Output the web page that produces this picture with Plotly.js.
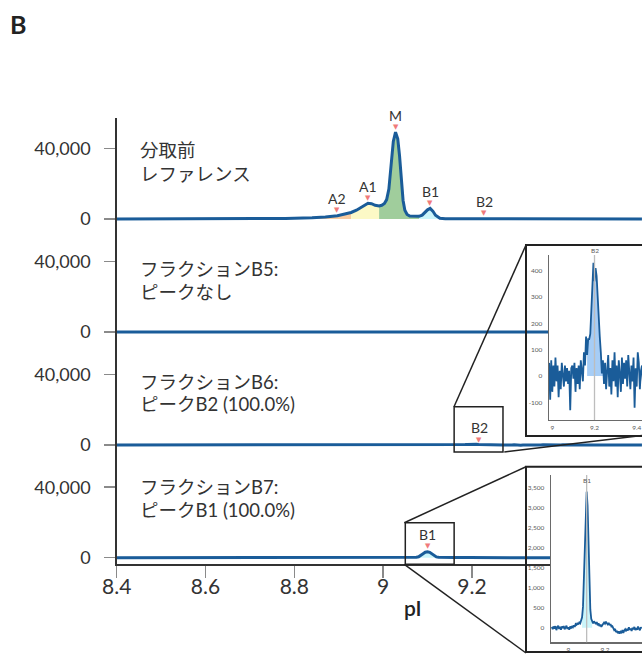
<!DOCTYPE html>
<html>
<head>
<meta charset="utf-8">
<script src="https://cdn.plot.ly/plotly-3.0.1.min.js"></script>
<style>
  html, body { margin: 0; padding: 0; background: #fff; }
  #chart { width: 642px; height: 654px; }
</style>
</head>
<body>
<div id="chart"></div>
<script>
// ---------------- data ----------------
// Pre-fractionation reference run: pI vs. signal
const refPI = [8.4, 8.5, 8.6, 8.7, 8.78, 8.84, 8.87, 8.897, 8.915, 8.928,
  8.94, 8.95, 8.958, 8.966, 8.974, 8.982, 8.991, 8.997, 9.003, 9.008,
  9.013, 9.018, 9.023, 9.028, 9.033, 9.037, 9.041, 9.045, 9.049, 9.054,
  9.06, 9.07, 9.081, 9.088, 9.094, 9.1, 9.106, 9.112, 9.118, 9.124,
  9.128, 9.14, 9.18, 9.21, 9.228, 9.245, 9.3, 9.4, 9.583];
const refSignal = [0, 0, 20, 100, 300, 700, 1100, 1900, 2800, 3700,
  5000, 6600, 8000, 8900, 8700, 7800, 7400, 7800, 8800, 11000,
  17000, 30000, 44000, 49300, 45500, 36000, 22000, 10500, 5000, 2600,
  1700, 1400, 1500, 2200, 3800, 5200, 6000, 4500, 2100, 800,
  400, 120, 80, 150, 350, 150, 60, 30, 0];

// Integration regions of the reference run
const regionNames = ['A2', 'A1', 'M', 'B1'];
const regionStart = [8.84, 8.928, 8.991, 9.081];
const regionEnd = [8.928, 8.991, 9.081, 9.128];

// Peak labels of the reference run
const refPeakNames = ['A2', 'A1', 'M', 'B1', 'B2'];
const refPeakPI = [8.897, 8.966, 9.028, 9.106, 9.228];

// Fraction B5: no peaks
const b5PI = [8.4, 8.7, 9.0, 9.3, 9.583];
const b5Signal = [0, 0, 0, 0, 0];

// Fraction B6: peak B2 (100.0%)
const b6LeadPI = [8.4, 8.6, 8.8, 8.98];
const b6LeadSignal = [0, 0, 0, 0];
const b6ZoomPI = [8.985, 8.99, 8.995, 9.0, 9.005, 9.01, 9.015, 9.02, 9.025, 9.03,
  9.035, 9.04, 9.045, 9.05, 9.055, 9.06, 9.065, 9.07, 9.075, 9.08,
  9.085, 9.09, 9.095, 9.1, 9.105, 9.11, 9.115, 9.12, 9.125, 9.13,
  9.135, 9.14, 9.145, 9.15, 9.155, 9.16, 9.165, 9.17, 9.175, 9.18,
  9.185, 9.19, 9.195, 9.2, 9.205, 9.21, 9.215, 9.22, 9.225, 9.23,
  9.235, 9.24, 9.245, 9.25, 9.255, 9.26, 9.265, 9.27, 9.275, 9.28,
  9.285, 9.29, 9.295, 9.3, 9.305, 9.31, 9.315, 9.32, 9.325, 9.33,
  9.335, 9.34, 9.345, 9.35, 9.355, 9.36, 9.365, 9.37, 9.375, 9.38,
  9.385, 9.39, 9.395, 9.4, 9.405, 9.41, 9.415, 9.42, 9.425, 9.43];
const b6ZoomSignal = [50, -90, 60, -60, 40, -40, 70, -20, 40, -80,
  20, -50, 50, 10, -40, 40, -20, 30, -30, 20,
  -130, 30, 40, -10, 50, -60, 30, -30, 40, -50,
  60, 20, -20, 90, 40, 150, 80, 140, 140, 160,
  250, 330, 430, 360, 410, 380, 290, 230, 150, 90,
  10, 60, -30, 50, -50, 20, 80, -40, 30, -70,
  60, -20, 90, -40, 40, -80, 60, 10, -60, 70,
  -30, 50, -10, 60, -40, 80, 20, -50, 40, -20,
  70, -120, 30, -40, 90, 50, -50, 20, 40, -30];
const b6TailPI = [9.5, 9.583];
const b6TailSignal = [0, 0];
const b6PeakName = 'B2';
const b6PeakPI = 9.216;      // marker on the overview trace
const b6ZoomPeakPI = 9.2;    // marker on the zoomed trace
const b6FillStart = 9.165, b6FillEnd = 9.24;

// Fraction B7: peak B1 (100.0%)
const b7LeadPI = [8.4, 8.6, 8.8, 8.9];
const b7LeadSignal = [0, 0, 0, 0];
const b7ZoomPI = [8.91, 8.915, 8.92, 8.925, 8.93, 8.935, 8.94, 8.945, 8.95, 8.955,
  8.96, 8.965, 8.97, 8.975, 8.98, 8.985, 8.99, 8.995, 9.0, 9.005,
  9.01, 9.015, 9.02, 9.025, 9.03, 9.035, 9.04, 9.045, 9.05, 9.055,
  9.06, 9.065, 9.07, 9.075, 9.08, 9.085, 9.09, 9.095, 9.1, 9.105,
  9.11, 9.115, 9.12, 9.125, 9.13, 9.135, 9.14, 9.145, 9.15, 9.155,
  9.16, 9.165, 9.17, 9.175, 9.18, 9.185, 9.19, 9.195, 9.2, 9.205,
  9.21, 9.215, 9.22, 9.225, 9.23, 9.235, 9.24, 9.245, 9.25, 9.255,
  9.26, 9.265, 9.27, 9.275, 9.28, 9.285, 9.29, 9.295, 9.3, 9.305,
  9.31, 9.315, 9.32, 9.325, 9.33, 9.335, 9.34, 9.345, 9.35, 9.355,
  9.36, 9.365, 9.37, 9.375, 9.38, 9.385, 9.39, 9.395, 9.4];
const b7ZoomSignal = [20, -40, 30, -20, 40, -60, 10, 50, -30, 20,
  -50, 30, -10, 40, -40, 20, 50, -30, 10, -50,
  30, -20, 40, 10, 60, 20, 90, 70, 120, 80,
  130, 110, 170, 260, 520, 1200, 2300, 3100, 3400, 3050,
  2250, 1150, 450, 220, 150, 110, 160, 120, 90, 140,
  60, 110, 40, 80, 20, 60, 90, 130, 100, 150,
  110, 80, 120, 60, 90, 30, 40, -20, -60, -30,
  -110, -80, -140, -90, -150, -100, -120, -60, -130, -70,
  -40, -90, -30, -70, 10, -50, -20, -80, 0, -40,
  20, -60, -10, -50, 30, -30, -60, 10, -20];
const b7TailPI = [9.45, 9.583];
const b7TailSignal = [0, 0];
const b7PeakName = 'B1';
const b7PeakPI = 9.1;
const b7FillStart = 9.075, b7FillEnd = 9.13;

// Axis ticks
const mainXTicks = [8.4, 8.6, 8.8, 9, 9.2];
const mainXTickText = ['8.4', '8.6', '8.8', '9', '9.2'];
const mainYTicks = [0, 40000];
const mainYTickText = ['0', '40,000'];
const zoomXTicks = [9, 9.2, 9.4];
const zoomXTickText = ['9', '9.2', '9.4'];
const b6ZoomYTicks = [-100, 0, 100, 200, 300, 400];
const b7ZoomYTicks = [0, 500, 1000, 1500, 2000, 2500, 3000, 3500];

// Panel captions
const panelCaptions = [
  ['分取前', 'レファレンス'],
  ['フラクションB5:', 'ピークなし'],
  ['フラクションB6:', 'ピークB2 (100.0%)'],
  ['フラクションB7:', 'ピークB1 (100.0%)']
];

// ---------------- helpers ----------------
const W = 642, H = 654;
const px = v => v / W;            // pixel column -> paper x
const py = v => 1 - v / H;        // pixel row -> paper y

function subset(xs, ys, a, b) {
  const sx = [], sy = [];
  xs.forEach((x, i) => { if (x >= a - 1e-9 && x <= b + 1e-9) { sx.push(x); sy.push(ys[i]); } });
  return { x: sx, y: sy };
}
function valueAt(xs, ys, x) {
  for (let i = 0; i < xs.length - 1; i++) {
    if (x >= xs[i] && x <= xs[i + 1]) {
      const t = (x - xs[i]) / (xs[i + 1] - xs[i]);
      return ys[i] + t * (ys[i + 1] - ys[i]);
    }
  }
  return 0;
}

// ---------------- styling ----------------
const LINE = '#1a5c99';
const FONT = 'Lato, "Noto Sans CJK JP", sans-serif';
const TEXT = '#333333';
const MARK = '#f07a7a';
const regionFill = { A2: '#f9cb9f', A1: '#fcf9c6', M: '#a0cd9c', B1: '#cbf5fa' };
const b2Fill = '#a6cdf6';

// Panel geometry (pixel rows)
const zeroPx = [219, 332, 445, 557.7];
const topPx = [118, 225.6, 338.5, 451.4];
const botPx = [225.6, 338.5, 451.4, 564.3];
const pxPerUnit = 70.5 / 40000;

// ---------------- traces ----------------
const traces = [];

// Panel 1: reference run with integrated regions
regionNames.forEach((name, i) => {
  const s = subset(refPI, refSignal, regionStart[i], regionEnd[i]);
  traces.push({ type: 'scatter', mode: 'lines', x: s.x, y: s.y, xaxis: 'x', yaxis: 'y',
    fill: 'tozeroy', fillcolor: regionFill[name], line: { width: 0 }, hoverinfo: 'skip' });
});
traces.push({ type: 'scatter', mode: 'lines', x: refPI, y: refSignal, xaxis: 'x', yaxis: 'y',
  line: { color: LINE, width: 3 }, hoverinfo: 'skip' });

// Panel 2: fraction B5
traces.push({ type: 'scatter', mode: 'lines', x: b5PI, y: b5Signal, xaxis: 'x', yaxis: 'y2',
  line: { color: LINE, width: 3 }, hoverinfo: 'skip' });

// Panel 3: fraction B6 (overview)
const b6PI = b6LeadPI.concat(b6ZoomPI, b6TailPI);
const b6Signal = b6LeadSignal.concat(b6ZoomSignal, b6TailSignal);
const b6Fill = subset(b6ZoomPI, b6ZoomSignal, b6FillStart, b6FillEnd);
traces.push({ type: 'scatter', mode: 'lines', x: b6Fill.x, y: b6Fill.y, xaxis: 'x', yaxis: 'y3',
  fill: 'tozeroy', fillcolor: b2Fill, line: { width: 0 }, hoverinfo: 'skip' });
traces.push({ type: 'scatter', mode: 'lines', x: b6PI, y: b6Signal, xaxis: 'x', yaxis: 'y3',
  line: { color: LINE, width: 3 }, hoverinfo: 'skip' });

// Panel 4: fraction B7 (overview)
const b7PI = b7LeadPI.concat(b7ZoomPI, b7TailPI);
const b7Signal = b7LeadSignal.concat(b7ZoomSignal, b7TailSignal);
const b7Fill = subset(b7ZoomPI, b7ZoomSignal, b7FillStart, b7FillEnd);
traces.push({ type: 'scatter', mode: 'lines', x: b7Fill.x, y: b7Fill.y, xaxis: 'x', yaxis: 'y4',
  fill: 'tozeroy', fillcolor: regionFill.B1, line: { width: 0 }, hoverinfo: 'skip' });
traces.push({ type: 'scatter', mode: 'lines', x: b7PI, y: b7Signal, xaxis: 'x', yaxis: 'y4',
  line: { color: LINE, width: 3 }, hoverinfo: 'skip' });

// Zoom of B6 around B2
traces.push({ type: 'scatter', mode: 'lines', x: b6Fill.x, y: b6Fill.y, xaxis: 'x3', yaxis: 'y6',
  fill: 'tozeroy', fillcolor: b2Fill, line: { width: 0 }, hoverinfo: 'skip' });
traces.push({ type: 'scatter', mode: 'lines', x: b6ZoomPI, y: b6ZoomSignal, xaxis: 'x3', yaxis: 'y6',
  line: { color: LINE, width: 1.8 }, hoverinfo: 'skip' });

// Zoom of B7 around B1
traces.push({ type: 'scatter', mode: 'lines', x: b7Fill.x, y: b7Fill.y, xaxis: 'x5', yaxis: 'y8',
  fill: 'tozeroy', fillcolor: regionFill.B1, line: { width: 0 }, hoverinfo: 'skip' });
traces.push({ type: 'scatter', mode: 'lines', x: b7ZoomPI, y: b7ZoomSignal, xaxis: 'x5', yaxis: 'y8',
  line: { color: LINE, width: 1.8 }, hoverinfo: 'skip' });

// ---------------- axes ----------------
const xMax = 8.4 + (W - 116.7) / 444;
const layout = {
  width: W, height: H, autosize: false,
  margin: { l: 0, r: 0, t: 0, b: 0, pad: 0 },
  paper_bgcolor: '#ffffff', plot_bgcolor: '#ffffff',
  showlegend: false,
  font: { family: FONT, color: TEXT },
  xaxis: {
    domain: [px(116.7), 1], range: [8.4, xMax], anchor: 'y4',
    showline: true, linecolor: '#333', linewidth: 1.5,
    ticks: 'outside', ticklen: 12, tickwidth: 1.5, tickcolor: '#8a8a8a',
    tickmode: 'array', tickvals: mainXTicks, ticktext: mainXTickText,
    tickfont: { size: 21, color: TEXT, family: FONT },
    ticklabelstandoff: -9,
    showgrid: false, zeroline: false, fixedrange: true
  },
  annotations: [],
  shapes: []
};

const yNames = ['yaxis', 'yaxis2', 'yaxis3', 'yaxis4'];
yNames.forEach((nm, i) => {
  layout[nm] = {
    domain: [py(botPx[i]), py(topPx[i])],
    range: [-(botPx[i] - zeroPx[i]) / pxPerUnit, (zeroPx[i] - topPx[i]) / pxPerUnit],
    anchor: 'x',
    showline: true, linecolor: '#333', linewidth: 1.5,
    ticks: 'outside', ticklen: 11, tickwidth: 1.5, tickcolor: '#8a8a8a',
    tickmode: 'array', tickvals: mainYTicks, ticktext: mainYTickText,
    tickfont: { size: 18, color: TEXT, family: FONT },
    ticklabelstandoff: 10,
    showgrid: false, zeroline: false, fixedrange: true
  };
});

// White backing panels behind each zoom window
const hidden = { visible: false, range: [0, 1], fixedrange: true, showgrid: false, zeroline: false };
layout.xaxis2 = Object.assign({}, hidden, { domain: [px(526), 1], anchor: 'y5' });
layout.yaxis5 = Object.assign({}, hidden, { domain: [py(436), py(245)], anchor: 'x2' });
layout.xaxis4 = Object.assign({}, hidden, { domain: [px(526), 1], anchor: 'y7' });
layout.yaxis7 = Object.assign({}, hidden, { domain: [py(652), py(466.7)], anchor: 'x4' });

const zoomAxis = {
  showline: true, linecolor: '#6a6a6a', linewidth: 1.3, ticks: '',
  tickfont: { size: 6.5, color: '#5a5a5a', family: FONT },
  showgrid: false, zeroline: false, fixedrange: true, tickmode: 'array'
};
layout.xaxis3 = Object.assign({}, zoomAxis, {
  domain: [px(549), 1], range: [8.9844, 9.4251], anchor: 'y6',
  tickvals: zoomXTicks, ticktext: zoomXTickText, ticklabelstandoff: 1
});
layout.yaxis6 = Object.assign({}, zoomAxis, {
  domain: [py(420), py(255)], range: [-167, 460], anchor: 'x3',
  tickvals: b6ZoomYTicks, ticktext: b6ZoomYTicks.map(String), ticklabelstandoff: 4
});
layout.xaxis5 = Object.assign({}, zoomAxis, {
  domain: [px(551), 1], range: [8.9057, 9.4016], anchor: 'y8',
  tickvals: zoomXTicks, ticktext: zoomXTickText, ticklabelstandoff: 1
});
layout.yaxis8 = Object.assign({}, zoomAxis, {
  domain: [py(642.3), py(475)], range: [-365, 3817], anchor: 'x5',
  tickvals: b7ZoomYTicks, ticktext: b7ZoomYTicks.map(v => v.toLocaleString('en-US')), ticklabelstandoff: 4
});

// ---------------- annotations ----------------
const ann = layout.annotations;
function peakLabel(name, x, xref, yref, yVal, triShift, textShift) {
  ann.push({ x: x, y: yVal, xref: xref, yref: yref, text: '▼', showarrow: false,
    xanchor: 'center', yanchor: 'middle', yshift: triShift,
    font: { size: 7, color: MARK, family: 'DejaVu Sans' } });
  ann.push({ x: x, y: yVal, xref: xref, yref: yref, text: name, showarrow: false,
    xanchor: 'center', yanchor: 'middle', yshift: textShift,
    font: { size: 14, color: TEXT, family: FONT } });
}
refPeakNames.forEach((name, i) => {
  const v = valueAt(refPI, refSignal, refPeakPI[i]);
  peakLabel(name, refPeakPI[i], 'x', 'y', v, 5.5, 17);
});
peakLabel(b6PeakName, b6PeakPI, 'x', 'y3', valueAt(b6PI, b6Signal, b6PeakPI), 5, 17.5);
peakLabel(b7PeakName, b7PeakPI, 'x', 'y4', valueAt(b7PI, b7Signal, b7PeakPI), 5.5, 17.5);

// Captions
const captionRows = [[150, 174], [269, 292], [382, 404], [487, 510]];
panelCaptions.forEach((lines, i) => {
  lines.forEach((t, j) => {
    ann.push({ x: px(137.5), y: py(captionRows[i][j]), xref: 'paper', yref: 'paper', text: t,
      showarrow: false, xanchor: 'left', yanchor: 'middle',
      font: { size: 18.5, color: TEXT, family: FONT } });
  });
});

// Panel letter and x title
ann.push({ x: px(18), y: py(23.5), xref: 'paper', yref: 'paper', text: '<b>B</b>', showarrow: false,
  xanchor: 'center', yanchor: 'middle', font: { size: 25, color: '#222', family: FONT } });
ann.push({ x: px(413), y: py(607), xref: 'paper', yref: 'paper', text: 'pI', showarrow: false,
  xanchor: 'center', yanchor: 'middle', font: { size: 21, color: '#222', family: FONT, weight: 600 } });

// Zoom window peak tags
ann.push({ x: b6ZoomPeakPI, y: py(251), xref: 'x3', yref: 'paper', text: b6PeakName, showarrow: false,
  xanchor: 'center', yanchor: 'middle', font: { size: 6.5, color: '#5a5a5a', family: FONT } });
ann.push({ x: b7PeakPI, y: py(480), xref: 'x5', yref: 'paper', text: b7PeakName, showarrow: false,
  xanchor: 'center', yanchor: 'middle', font: { size: 6.5, color: '#5a5a5a', family: FONT } });

// ---------------- shapes ----------------
const sh = layout.shapes;
const frame = { color: '#222', width: 1.5 };
// selection boxes on the overview traces
sh.push({ type: 'rect', xref: 'x', yref: 'paper', x0: 9.16, x1: 9.27, y0: py(452), y1: py(406.7), line: frame });
sh.push({ type: 'rect', xref: 'x', yref: 'paper', x0: 9.05, x1: 9.16, y0: py(564.3), y1: py(522.7), line: frame });
// connector lines
const seg = (x0, y0, x1, y1) => ({ type: 'line', xref: 'paper', yref: 'paper',
  x0: px(x0), y0: py(y0), x1: px(x1), y1: py(y1), line: frame });
sh.push(seg(454, 406.7, 526, 245));
sh.push(seg(504.3, 452, 642, 435.5));
sh.push(seg(404.3, 522.7, 526, 466.7));
sh.push(seg(404.3, 564.3, 526, 653));
// zoom window frames
sh.push({ type: 'rect', xref: 'paper', yref: 'paper', x0: px(526), x1: px(660), y0: py(436), y1: py(245),
  line: { color: '#222', width: 2 } });
sh.push({ type: 'rect', xref: 'paper', yref: 'paper', x0: px(526), x1: px(660), y0: py(652), y1: py(466.7),
  line: { color: '#222', width: 2 } });
// peak position markers inside the zoom windows
sh.push({ type: 'line', xref: 'x3', yref: 'y6 domain', x0: b6ZoomPeakPI, x1: b6ZoomPeakPI, y0: 0, y1: 1,
  line: { color: '#bdbdbd', width: 1.3 } });
sh.push({ type: 'line', xref: 'x5', yref: 'y8 domain', x0: b7PeakPI, x1: b7PeakPI, y0: 0, y1: 1,
  line: { color: '#bdbdbd', width: 1.3 } });

Plotly.newPlot('chart', traces, layout, { staticPlot: true, displayModeBar: false });
</script>
</body>
</html>
